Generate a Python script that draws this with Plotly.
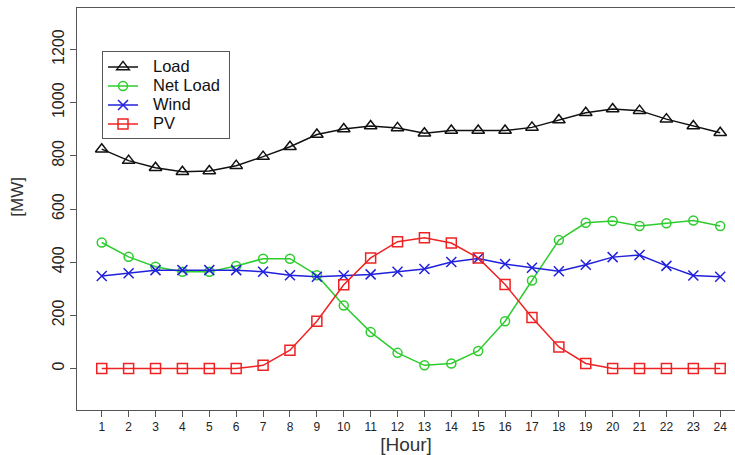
import plotly.graph_objects as go

hours = list(range(1, 25))
load = [825, 782, 755, 740, 743, 763, 797, 834, 880, 901, 912, 905,
        885, 895, 895, 895, 907, 935, 962, 976, 970, 938, 912, 887]
net_load = [474, 420, 383, 364, 364, 386, 413, 413, 351, 237, 137, 59,
            12, 19, 66, 178, 331, 483, 548, 555, 536, 546, 557, 536]
wind = [348, 358, 370, 370, 370, 370, 364, 351, 345, 350, 354, 364,
        374, 401, 414, 393, 379, 366, 390, 419, 427, 386, 350, 345]
pv = [0, 0, 0, 0, 0, 0, 12, 69, 178, 315, 416, 477,
      492, 472, 416, 316, 192, 81, 19, 0, 0, 0, 0, 0]
y_ticks = [0, 200, 400, 600, 800, 1000, 1200]
names = ["Load", "Net Load", "Wind", "PV"]

fig = go.Figure()
series = [
    (names[0], load, "#111111", "triangle-up-open", 11),
    (names[1], net_load, "#2ecc2e", "circle-open", 9),
    (names[2], wind, "#2020dd", "x-thin-open", 10),
    (names[3], pv, "#ee2222", "square-open", 10),
]
for name, vals, col, sym, sz in series:
    fig.add_trace(go.Scatter(
        x=hours, y=vals, mode="lines+markers",
        name="\u00a0\u00a0\u00a0<span style='font-size:16.5px'>" + name + "</span>\u00a0",
        line=dict(color=col, width=1.5),
        marker=dict(symbol=sym, size=sz, color=col, line=dict(color=col, width=1.5)),
    ))

fig.update_layout(
    width=735, height=455,
    margin=dict(l=77, r=0, t=8, b=45),
    paper_bgcolor="white", plot_bgcolor="white",
    font=dict(family="Liberation Sans, Arial, sans-serif", color="#222"),
    showlegend=True,
    legend=dict(
        x=0.038, y=0.892, xanchor="left", yanchor="top",
        bgcolor="white", bordercolor="#555", borderwidth=1,
        font=dict(size=12, color="#111"),
        tracegroupgap=0, itemwidth=30,
    ),
    xaxis=dict(
        range=[0.08, 24.55], tickmode="array", tickvals=hours,
        ticktext=[str(h) for h in hours],
        showgrid=False, zeroline=False,
        showline=True, linecolor="#555", linewidth=1, mirror=True,
        ticks="outside", ticklen=6, tickcolor="#555",
        tickfont=dict(size=12, color="#222"),
        title=dict(text="[Hour]", font=dict(size=19, color="#333"), standoff=4),
    ),
    yaxis=dict(
        range=[-156, 1356], tickmode="array", tickvals=y_ticks,
        showgrid=False, zeroline=False,
        showline=True, linecolor="#555", linewidth=1, mirror=False,
        ticks="outside", ticklen=6, tickcolor="#555",
        tickangle=-90,
        tickfont=dict(size=16, color="#222"),
    ),
    annotations=[dict(
        text="[MW]", xref="paper", yref="paper",
        x=-0.09, y=0.53, xanchor="center", yanchor="middle",
        textangle=-90, showarrow=False,
        font=dict(size=17, color="#333"),
    )],
)

fig.write_html("out.html")
